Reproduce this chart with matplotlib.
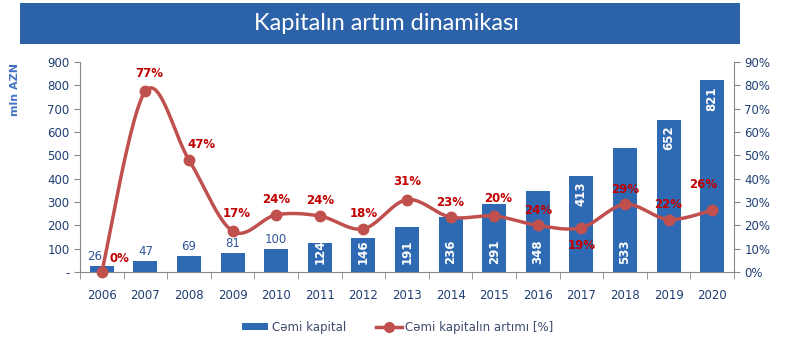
import matplotlib
matplotlib.use("Agg")
import matplotlib.pyplot as plt
import numpy as np
from matplotlib.patches import Rectangle
from matplotlib.lines import Line2D
from matplotlib.patches import Patch

years = ["2006", "2007", "2008", "2009", "2010", "2011", "2012", "2013",
         "2014", "2015", "2016", "2017", "2018", "2019", "2020"]
capital = [26, 47, 69, 81, 100, 124, 146, 191, 236, 291, 348, 413, 533, 652, 821]
growth = [0.0, 77.5, 48.0, 17.5, 24.5, 24.0, 18.5, 31.0, 23.5, 24.0, 20.0, 19.0, 29.0, 22.5, 26.5]
growth_labels = ["0%", "77%", "47%", "17%", "24%", "24%", "18%", "31%", "23%", "20%",
                 "24%", "19%", "29%", "22%", "26%"]
left_ticks = [0, 100, 200, 300, 400, 500, 600, 700, 800, 900]
left_tick_labels = ["-", "100", "200", "300", "400", "500", "600", "700", "800", "900"]
right_ticks = [0, 10, 20, 30, 40, 50, 60, 70, 80, 90]

BAR = "#2E69B3"
LINE = "#C0504D"
RED = "#C00000"
TICK = "#1F3F73"

fig = plt.figure(figsize=(7.91, 3.42), dpi=100)
fig.patch.set_facecolor("white")

# title banner
fig.patches.append(Rectangle((20/791, 1-44/342), 720/791, 41/342, transform=fig.transFigure,
                             facecolor="#2C62A8", edgecolor="none", zorder=0))
fig.text(387/791, 1-24/342, "Kapitalın artım dinamikası", color="white", fontsize=17,
         family="Lato", ha="center", va="center")

ax = fig.add_axes([80/791, 1-272/342, 654/791, 210/342])
x = np.arange(len(years))
ax.bar(x, capital, width=0.55, color=BAR, zorder=2)
ax.set_xlim(-0.5, len(years)-0.5)
ax.set_ylim(0, 900)
ax.set_yticks(left_ticks)
ax.set_yticklabels(left_tick_labels)
ax.set_xticks(x)
ax.set_xticklabels(years)
ax.set_xticks(np.arange(-0.5, len(years), 1), minor=True)
ax.tick_params(axis="x", which="major", length=0, pad=12, colors=TICK, labelsize=8.5)
ax.tick_params(axis="x", which="minor", length=5, color="#888888", direction="out")
ax.tick_params(axis="y", length=4, color="#888888", colors=TICK, labelsize=8.5)
for s in ["top", "right"]:
    ax.spines[s].set_visible(False)
ax.spines["left"].set_color("#888888")
ax.spines["bottom"].set_color("#888888")
for lbl in ax.get_xticklabels() + ax.get_yticklabels():
    lbl.set_color(TICK)

# bar labels
inside_end = {11, 13, 14}
for i, v in enumerate(capital):
    if v <= 100:
        dx = -7 if i == 0 else 0
        ax.annotate(str(v), (i, v), xytext=(dx, 3), textcoords="offset pixels",
                    ha="center", va="bottom", color="#2F5597", fontsize=8.5)
    elif i in inside_end:
        ax.annotate(str(v), (i, v), xytext=(0, -6), textcoords="offset pixels",
                    ha="center", va="top", rotation=90, color="white",
                    fontsize=8.5, fontweight="bold")
    else:
        ax.annotate(str(v), (i, 0), xytext=(0, 8), textcoords="offset pixels",
                    ha="center", va="bottom", rotation=90, color="white",
                    fontsize=8.5, fontweight="bold")

fig.text(15/791, 1-90/342, "mln AZN", rotation=90, color="#4472C4", fontsize=8,
         fontweight="bold", ha="center", va="center")

ax2 = ax.twinx()
ax2.set_ylim(0, 90)
ax2.set_yticks(right_ticks)
ax2.set_yticklabels([f"{t}%" for t in right_ticks])
ax2.tick_params(axis="y", length=4, color="#888888", colors=TICK, labelsize=8.5)
for s in ["top", "left", "bottom"]:
    ax2.spines[s].set_visible(False)
ax2.spines["right"].set_color("#888888")

# smooth curve (Bezier through points, Catmull-Rom style)
px = np.array(x, dtype=float)
py = np.array(growth, dtype=float)
cx, cy = [], []
n = len(px)
t = np.linspace(0, 1, 30)
for i in range(n-1):
    p0 = np.array([px[max(i-1, 0)], py[max(i-1, 0)]])
    p1 = np.array([px[i], py[i]])
    p2 = np.array([px[i+1], py[i+1]])
    p3 = np.array([px[min(i+2, n-1)], py[min(i+2, n-1)]])
    c1 = p1 + (p2 - p0) / 6
    c2 = p2 - (p3 - p1) / 6
    b = ((1-t)**3)[:, None]*p1 + (3*(1-t)**2*t)[:, None]*c1 + (3*(1-t)*t**2)[:, None]*c2 + (t**3)[:, None]*p2
    cx.extend(b[:, 0]); cy.extend(b[:, 1])
ax2.plot(cx, cy, color=LINE, lw=2.5, zorder=3, clip_on=False)
ax2.plot(px, py, "o", color=LINE, ms=7.5, zorder=4, clip_on=False)

offsets = {0: (18, 14), 1: (4, 18), 2: (13, 16), 3: (4, 18), 7: (0, 18), 11: (0, -18),
           14: (-9, 26), 9: (4, 18)}
for i, lab in enumerate(growth_labels):
    dx, dy = offsets.get(i, (0, 15))
    ax2.annotate(lab, (i, growth[i]), xytext=(dx, dy), textcoords="offset pixels",
                 ha="center", va="center", color=RED, fontsize=8.5, fontweight="bold")

handles = [Patch(facecolor=BAR, edgecolor="none"),
           Line2D([0], [0], color=LINE, lw=2.5, marker="o", ms=7)]
fig.legend(handles, ["Cəmi kapital", "Cəmi kapitalın artımı [%]"], loc="center",
           bbox_to_anchor=(398/791, 1-327/342), ncol=2, frameon=False, fontsize=8.5,
           labelcolor="#404A6E", handlelength=2.2, handleheight=0.5, columnspacing=2.5,
           handletextpad=0.3)

fig.savefig("out.png", dpi=100)
